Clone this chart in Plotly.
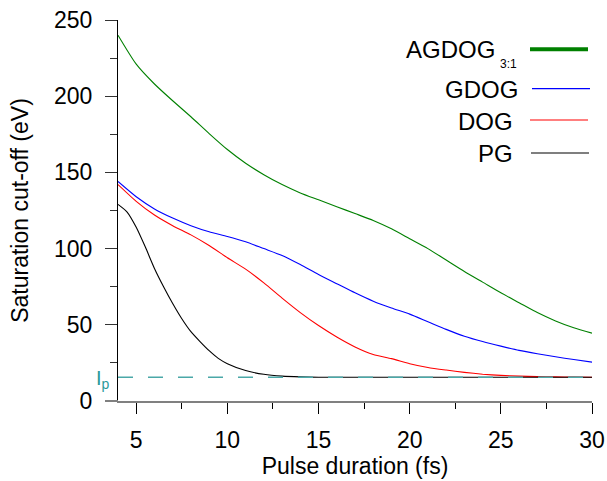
import plotly.graph_objects as go

# ---------------- data ----------------
pulse_agdog = [4, 5, 6, 7, 8, 9, 10, 11, 12, 13, 14, 15, 16, 17, 18, 19, 20, 21, 22, 23, 24, 25, 26, 27, 28, 29, 30]
cutoff_agdog = [240, 221, 208, 197, 186.5, 175.5, 165, 156, 148.5, 142, 136.5, 132, 127.5, 123, 118.5, 113, 106.5, 100, 92.5, 85, 78, 71, 64.5, 58, 52.5, 48, 44.5]

pulse_gdog = [4, 5, 6, 7, 8, 9, 10, 11, 12, 13, 14, 15, 16, 17, 18, 19, 20, 21, 22, 23, 24, 25, 26, 27, 28, 29, 30]
cutoff_gdog = [144, 134, 126, 120, 115, 111, 108, 104.5, 100, 95.5, 89.5, 83, 77, 71, 65.5, 61, 57, 52, 47, 42.5, 39, 36, 33.2, 31, 29, 27.2, 25.5]

pulse_dog = [4, 5, 6, 7, 8, 9, 10, 11, 12, 13, 14, 15, 16, 17, 18, 19, 20, 21, 22, 23, 24, 25, 26, 27, 28, 29, 30]
cutoff_dog = [142, 131, 122, 115, 109, 102, 94, 86.5, 77.5, 67.5, 58, 49.5, 42, 35.5, 30.5, 27.8, 24.5, 22, 20.3, 18.8, 17.6, 16.8, 16.3, 16, 15.8, 15.7, 15.6]

pulse_pg = [4, 4.5, 5, 5.5, 6, 6.5, 7, 7.5, 8, 8.5, 9, 9.5, 10, 11, 12, 13, 14, 15, 17, 20, 25, 30]
cutoff_pg = [129, 124, 114, 101, 87, 75, 64, 54, 45.5, 39, 33, 28, 24.5, 20, 17.5, 16.3, 15.8, 15.6, 15.6, 15.6, 15.6, 15.6]

ip_energy = 15.6

series_names = ["AGDOG", "GDOG", "DOG", "PG"]
series_colors = ["#008000", "#0000ff", "#ff0000", "#000000"]

x_ticks = [5, 10, 15, 20, 25, 30]
y_ticks = [0, 50, 100, 150, 200, 250]

# ---------------- figure ----------------
W, H = 607, 481
ML, MR, MT, MB = 118, 15, 20, 80
PW, PH = W - ML - MR, H - MT - MB

def px(xp):
    return (xp - ML) / PW

def py(yp):
    return (H - MB - yp) / PH

fig = go.Figure()
data = [(pulse_agdog, cutoff_agdog), (pulse_gdog, cutoff_gdog), (pulse_dog, cutoff_dog), (pulse_pg, cutoff_pg)]
for (xs, ys), name, col in zip(data, series_names, series_colors):
    fig.add_trace(go.Scatter(x=xs, y=ys, mode="lines", name=name,
                             line=dict(color=col, width=1.1, shape="spline", smoothing=0.6),
                             showlegend=False))

fig.add_hline(y=ip_energy, line=dict(color="#4aa8a8", width=1.3, dash="15px,15px"), layer="above")

font = "Liberation Sans, Arial, sans-serif"

fig.update_layout(
    width=W, height=H,
    margin=dict(l=ML, r=MR, t=MT, b=MB),
    paper_bgcolor="white", plot_bgcolor="white",
    font=dict(family=font, size=23, color="black"),
    xaxis=dict(range=[4, 30], tickvals=x_ticks, ticks="outside", ticklen=11, tickcolor="black",
               showline=True, linecolor="#808080", linewidth=2, showgrid=False, zeroline=False,
               minor=dict(dtick=2.5, tick0=5, ticks="outside", ticklen=6, tickcolor="black"),
               title=dict(text="Pulse duration (fs)", font=dict(size=23), standoff=4),
               tickfont=dict(size=23), ticklabelstandoff=6, automargin=False),
    yaxis=dict(range=[0, 250], tickvals=y_ticks, ticks="outside", ticklen=12, tickcolor="#333333",
               showline=True, linecolor="black", linewidth=1, showgrid=False, zeroline=False,
               minor=dict(dtick=25, ticks="outside", ticklen=7, tickcolor="#333333"),
               title=dict(text="Saturation cut-off (eV)", font=dict(size=23), standoff=18),
               tickfont=dict(size=23), ticklabelstandoff=8, automargin=False),
)

# gray baseline stub extending left of the y axis (as in the reference)
fig.add_shape(type="line", xref="paper", yref="paper", x0=px(105), x1=0, y0=0, y1=0,
              line=dict(color="#808080", width=2))

# Ip label
fig.add_annotation(xref="paper", yref="y", x=px(112), y=ip_energy, text="I<sub>p</sub>",
                   showarrow=False, xanchor="right", yanchor="middle", yshift=-2,
                   font=dict(size=20, color="#2a9a9a", family=font))

# custom legend
leg_text_right = [497, 520, 515, 515]
leg_text_cy = [48.7, 88.7, 120.3, 152.8]
leg_line_x = [(530, 588), (532, 590), (530, 588), (531, 589)]
leg_line_y = [49.3, 88.7, 120, 153]
leg_line_w = [4, 1.2, 1.2, 1.2]
for name, col, xr, cy, (lx0, lx1), ly, lw in zip(series_names, series_colors, leg_text_right, leg_text_cy,
                                                leg_line_x, leg_line_y, leg_line_w):
    fig.add_annotation(xref="paper", yref="paper", x=px(xr), y=py(cy), text=name, showarrow=False,
                       xanchor="right", yanchor="middle", xshift=0, yshift=-1,
                       font=dict(size=24, color="black", family=font))
    fig.add_shape(type="line", xref="paper", yref="paper", x0=px(lx0), x1=px(lx1), y0=py(ly), y1=py(ly),
                  line=dict(color=col, width=lw))

fig.add_annotation(xref="paper", yref="paper", x=px(500), y=py(63.5), text="3:1", showarrow=False,
                   xanchor="left", yanchor="middle", xshift=-2,
                   font=dict(size=12, color="black", family=font))

fig.write_html("out.html", config={"displayModeBar": False},
               post_script="document.body.style.margin='0px';document.body.style.overflow='hidden';")
